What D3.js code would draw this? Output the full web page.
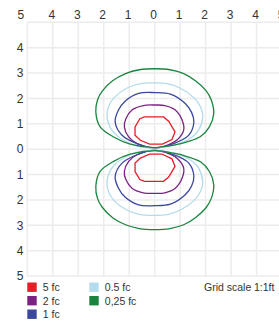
<!DOCTYPE html>
<html><head><meta charset="utf-8">
<script src="https://cdn.jsdelivr.net/npm/d3@7"></script>
<style>body{margin:0;background:#fff;}svg{display:block;font-family:"Liberation Sans",Arial,sans-serif;}</style>
</head><body>
<svg id="c" width="279" height="323"></svg>
<script>
// grid ticks (feet from fixture)
const xTicks = [-5,-4,-3,-2,-1,0,1,2,3,4,5];
const yTicks = [5,4,3,2,1,0,-1,-2,-3,-4,-5];
// iso-footcandle contours, upper lobe, in feet [x, y]
const levels = ["5 fc","2 fc","1 fc","0.5 fc","0,25 fc"];
const colors = ["#e41e26","#7b2382","#39479d","#b3dcec","#1b8540"];
const c025 = [[0,0.06],[0.75,0.16],[1.3,0.3],[1.8,0.5],[2.15,0.88],[2.32,1.4],[2.22,1.95],[2.0,2.33],[1.6,2.7],[1.14,2.98],[0.6,3.13],[0,3.17],[-0.6,3.13],[-1.14,2.98],[-1.65,2.7],[-2.05,2.3],[-2.24,1.95],[-2.31,1.47],[-2.14,0.88],[-1.61,0.48],[-0.96,0.2]];
const c05 = [[0,0.05],[0.6,0.12],[1.14,0.29],[1.5,0.5],[1.73,0.75],[1.89,1.3],[1.8,1.67],[1.55,2.02],[1.01,2.4],[0.5,2.58],[0,2.61],[-0.56,2.58],[-1.1,2.4],[-1.6,2.02],[-1.82,1.65],[-1.87,1.27],[-1.68,0.75],[-1.22,0.35],[-0.69,0.12]];
const c1 = [[0,0.05],[0.75,0.22],[1.34,0.55],[1.54,1.07],[1.45,1.45],[1.2,1.8],[0.62,2.17],[0,2.23],[-0.63,2.2],[-1.15,1.9],[-1.42,1.54],[-1.55,1.07],[-1.28,0.55],[-0.69,0.22]];
const c2 = [[0,0.05],[0.6,0.2],[0.9,0.38],[1.14,0.75],[1.08,1.14],[0.8,1.55],[0.4,1.72],[0,1.74],[-0.45,1.72],[-0.88,1.55],[-1.13,1.2],[-1.19,0.88],[-1.02,0.48],[-0.69,0.22]];
const c5 = [[0.3,0.2],[0.68,0.38],[0.8,0.68],[0.55,1.1],[0.35,1.27],[-0.4,1.27],[-0.58,1.2],[-0.77,0.88],[-0.77,0.55],[-0.56,0.35],[-0.2,0.2]];
const contours = [c5,c2,c1,c05,c025];

const svg = d3.select("#c");
const x = d3.scaleLinear().domain([-5,5]).range([27.3,282]);
const y = d3.scaleLinear().domain([5,-5]).range([22.3,276]);

const g = svg.append("g");
g.selectAll("line.v").data(xTicks).join("line")
  .attr("x1",d=>x(d)).attr("x2",d=>x(d)).attr("y1",y(5)).attr("y2",y(-5))
  .attr("stroke","#ececec").attr("stroke-width",1.5);
g.selectAll("line.h").data(yTicks).join("line")
  .attr("y1",d=>y(d)).attr("y2",d=>y(d)).attr("x1",x(-5)).attr("x2",x(5))
  .attr("stroke","#ececec").attr("stroke-width",1.5);

svg.selectAll("text.xt").data(xTicks).join("text")
  .attr("x",d=>d===-5 ? x(d)-6.5 : x(d)-1).attr("y",19)
  .attr("text-anchor","middle").attr("font-size",12).attr("fill","#333")
  .text(d=>Math.abs(d));
svg.selectAll("text.yt").data(yTicks.slice(1)).join("text")
  .attr("x",20).attr("y",d=>y(d)+4.3)
  .attr("text-anchor","middle").attr("font-size",12).attr("fill","#333")
  .text(d=>Math.abs(d));

const line = d3.line().x(d=>x(d[0])).y(d=>y(d[1])).curve(d3.curveCatmullRomClosed.alpha(0.5));
const lineRed = d3.line().x(d=>x(d[0])).y(d=>y(d[1])).curve(d3.curveLinearClosed);
contours.forEach((pts,i)=>{
  const gen = i===0 ? lineRed : line;
  [1,-1].forEach(s=>{
    svg.append("path").attr("d",gen(pts.map(p=>[p[0],s*p[1]])))
      .attr("fill","none").attr("stroke",colors[i]).attr("stroke-width",1.3);
  });
});

// legend
const leg = svg.append("g");
levels.forEach((l,i)=>{
  const col = i<3 ? 0 : 1, row = i<3 ? i : i-3;
  const lx = col===0 ? 27.3 : 89.3, ly = 282.5 + row*13.5;
  leg.append("rect").attr("x",lx).attr("y",ly).attr("width",9.4).attr("height",9.4).attr("fill",colors[i]);
  leg.append("text").attr("x",lx+15.5).attr("y",ly+8.5).attr("font-size",10.5).attr("fill","#333").text(l);
});
leg.append("text").attr("x",204).attr("y",291).attr("font-size",10.5).attr("fill","#333").text("Grid scale");
leg.append("text").attr("x",254).attr("y",291).attr("font-size",10.5).attr("fill","#333").text("1:1ft");
</script>
</body></html>
